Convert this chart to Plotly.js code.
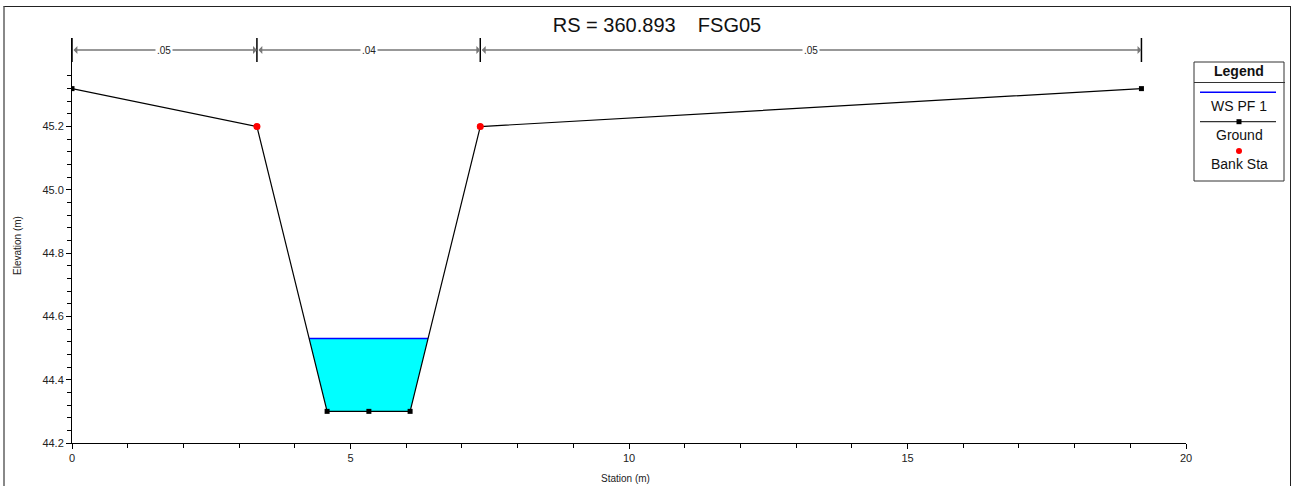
<!DOCTYPE html>
<html>
<head>
<meta charset="utf-8">
<script src="https://cdn.plot.ly/plotly-3.0.1.min.js"></script>
<style>
  html, body { margin: 0; padding: 0; background: #fff; }
  #wrap { position: relative; width: 1296px; height: 486px; }
  #chart { position: absolute; left: 0; top: 0; width: 1296px; height: 486px; }
  #frame { position: absolute; left: 3px; top: 6px; width: 1285px; height: 500px;
           border-left: 2px solid #888; border-top: 1.5px solid #222; border-right: 1.5px solid #222;
           pointer-events: none; }
</style>
</head>
<body>
<div id="wrap">
  <div id="chart"></div>
  <div id="frame"></div>
</div>
<script>
// ---- data ----
const groundStation = [0, 3.32, 4.58, 5.33, 6.07, 7.33, 19.2];
const groundElev    = [45.32, 45.2, 44.3, 44.3, 44.3, 45.2, 45.32];
const bankStation   = [3.32, 7.33];
const bankElev      = [45.2, 45.2];
const wsElev        = 44.53;
const nStations     = [0, 3.32, 7.33, 19.2];
const nValues       = ['.05', '.04', '.05'];
const yTickVals     = [44.2, 44.4, 44.6, 44.8, 45.0, 45.2];
const yMinorVals    = [44.24, 44.28, 44.32, 44.36, 44.44, 44.48, 44.52, 44.56, 44.64, 44.68, 44.72, 44.76,
                       44.84, 44.88, 44.92, 44.96, 45.04, 45.08, 45.12, 45.16, 45.24, 45.28, 45.32, 45.36];
const titleText     = 'RS = 360.893\u00a0\u00a0\u00a0\u00a0FSG05';

// ---- layout geometry (pixels) ----
const L = 72, R = 1186, T = 38, B = 443;
const W = R - L, H = B - T;
const px = p => (p - L) / W;
const py = p => (B - p) / H;

// water polygon from ground & WS
function waterPolygon(xs, ys, ws) {
  const wx = [], wy = [];
  for (let i = 0; i < xs.length - 1; i++) {
    const x0 = xs[i], y0 = ys[i], x1 = xs[i+1], y1 = ys[i+1];
    if (y0 < ws && wx.length) { wx.push(x0); wy.push(y0); }
    if ((y0 - ws) * (y1 - ws) < 0) {
      const xc = x0 + (ws - y0) / (y1 - y0) * (x1 - x0);
      wx.push(xc); wy.push(ws);
    }
  }
  return {x: wx, y: wy};
}
const wp = waterPolygon(groundStation, groundElev, wsElev);
const wsLeft = wp.x[0], wsRight = wp.x[wp.x.length - 1];

const traces = [
  { x: wp.x, y: wp.y, type: 'scatter', mode: 'lines', fill: 'toself',
    fillcolor: '#00ffff', line: {width: 0, color: '#00ffff'}, hoverinfo: 'skip', showlegend: false },
  { x: [wsLeft, wsRight], y: [wsElev, wsElev], type: 'scatter', mode: 'lines',
    line: {color: '#0000ff', width: 1.5}, name: 'WS PF 1', showlegend: false },
  { x: groundStation, y: groundElev, type: 'scatter', mode: 'lines+markers',
    line: {color: '#000', width: 1.2}, marker: {symbol: 'square', size: 5, color: '#000'},
    name: 'Ground', showlegend: false },
  { x: bankStation, y: bankElev, type: 'scatter', mode: 'markers',
    marker: {symbol: 'circle', size: 7, color: '#ff0000'}, name: 'Bank Sta', showlegend: false }
];

const shapes = [];
const annotations = [];
const yBr = py(50);
// n-value dividers
nStations.forEach(s => {
  shapes.push({type: 'line', xref: 'x', yref: 'paper', x0: s, x1: s, y0: py(38), y1: py(62),
               line: {color: '#000', width: 1.5}});
});
for (let i = 0; i < nValues.length; i++) {
  annotations.push({xref: 'x', yref: 'paper', x: nStations[i+1], y: yBr, axref: 'x', ayref: 'pixel',
                    ax: nStations[i], ay: 0, text: '', showarrow: true, arrowside: 'end+start',
                    arrowhead: 1, arrowsize: 1, arrowwidth: 1.3, arrowcolor: '#777'});
}
for (let i = 0; i < nValues.length; i++) {
  annotations.push({xref: 'x', yref: 'paper', x: (nStations[i] + nStations[i+1]) / 2, y: yBr,
                    xanchor: 'center', yanchor: 'middle',
                    text: nValues[i], showarrow: false, bgcolor: '#fff', borderpad: 1,
                    font: {family: 'Liberation Sans, Arial', size: 10, color: '#222'}});
}
// custom legend box
shapes.push({type: 'rect', xref: 'paper', yref: 'paper', x0: px(1194), x1: px(1284), y0: py(62), y1: py(181),
             line: {color: '#333', width: 1}, fillcolor: '#fff'});
shapes.push({type: 'line', xref: 'paper', yref: 'paper', x0: px(1194), x1: px(1285), y0: py(82.5), y1: py(82.5),
             line: {color: '#333', width: 1}});
shapes.push({type: 'line', xref: 'paper', yref: 'paper', x0: px(1200), x1: px(1276), y0: py(92.3), y1: py(92.3),
             line: {color: '#0000ff', width: 1.5}});
shapes.push({type: 'line', xref: 'paper', yref: 'paper', x0: px(1200), x1: px(1276), y0: py(121.7), y1: py(121.7),
             line: {color: '#333', width: 1.2}});
shapes.push({type: 'rect', xref: 'paper', yref: 'paper', x0: px(1236.5), x1: px(1241.5), y0: py(119.2), y1: py(124.2),
             line: {color: '#000', width: 0}, fillcolor: '#000'});
shapes.push({type: 'circle', xref: 'paper', yref: 'paper', x0: px(1236), x1: px(1242), y0: py(148), y1: py(154),
             line: {color: '#ff0000', width: 0}, fillcolor: '#ff0000'});
const legFont = {family: 'Liberation Sans, Arial', size: 14, color: '#111'};
[['<b>Legend</b>', 71], ['WS PF 1', 105.7], ['Ground', 134.5], ['Bank Sta', 164]].forEach(([t, y]) => {
  annotations.push({xref: 'paper', yref: 'paper', x: px(1239), y: py(y), text: t, showarrow: false,
                    xanchor: 'center', yanchor: 'middle', font: legFont});
});
// axis titles
const titleFont = {family: 'Liberation Sans, Arial', size: 10, color: '#222'};
annotations.push({xref: 'paper', yref: 'paper', x: px(625), y: py(478), text: 'Station (m)', showarrow: false,
                  xanchor: 'center', yanchor: 'middle', font: titleFont});
annotations.push({xref: 'paper', yref: 'paper', x: px(18), y: py(246), text: 'Elevation (m)', showarrow: false,
                  textangle: -90, xanchor: 'center', yanchor: 'middle', font: titleFont});

const axisFont = {family: 'Liberation Sans, Arial', size: 11, color: '#222'};
const layout = {
  width: 1296, height: 486,
  margin: {l: L, r: 1296 - R, t: T, b: 486 - B, pad: 0},
  paper_bgcolor: 'rgba(0,0,0,0)', plot_bgcolor: 'rgba(0,0,0,0)',
  showlegend: false,
  title: {text: titleText, xref: 'paper', x: px(657), xanchor: 'center', yref: 'container', y: 1 - 24.5/486,
          yanchor: 'middle', font: {family: 'Liberation Sans, Arial', size: 20, color: '#111'}},
  xaxis: {range: [0, 20], tick0: 0, dtick: 5, showgrid: false, zeroline: false,
          showline: true, linecolor: '#000', linewidth: 1, ticks: 'outside', ticklen: 5, tickcolor: '#000',
          minor: {dtick: 1, ticks: 'outside', ticklen: 4, tickcolor: '#000', showgrid: false},
          tickfont: axisFont},
  yaxis: {range: [44.2, 45.48], tickmode: 'array', tickvals: yTickVals, tickformat: '.1f',
          showgrid: false, zeroline: false,
          showline: true, linecolor: '#000', linewidth: 1, ticks: 'outside', ticklen: 5, tickcolor: '#000',
          minor: {tickmode: 'array', tickvals: yMinorVals, ticks: 'outside', ticklen: 4, tickcolor: '#000', showgrid: false},
          tickfont: axisFont},
  shapes: shapes,
  annotations: annotations
};

Plotly.newPlot('chart', traces, layout, {displayModeBar: false, staticPlot: true});
</script>
</body>
</html>
